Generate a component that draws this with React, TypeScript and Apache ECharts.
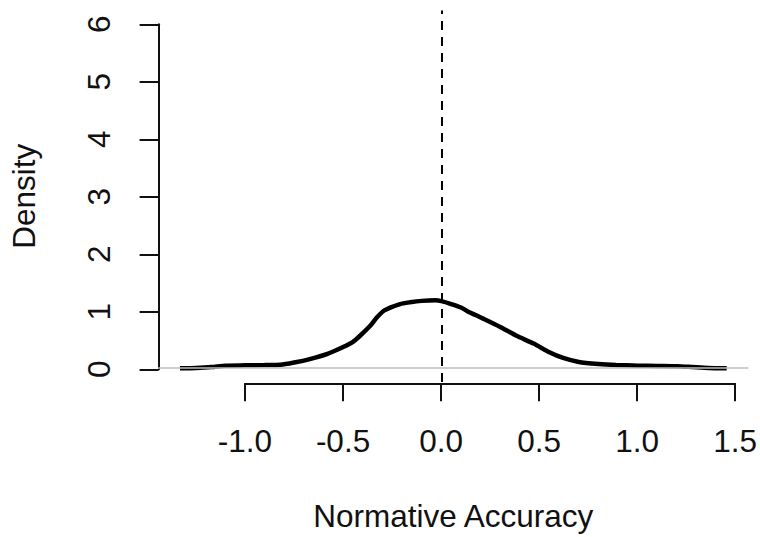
import React, { useEffect, useRef } from "react";
import * as echarts from "echarts";

// Density curve
const densityX = [
  -1.331, -1.25, -1.17, -1.1, -1.0, -0.9, -0.82, -0.75, -0.67, -0.58, -0.5, -0.45, -0.41,
  -0.36, -0.33, -0.29, -0.21, -0.16, -0.1, -0.03, 0.0, 0.05, 0.1, 0.13, 0.21, 0.3, 0.38,
  0.47, 0.55, 0.62, 0.7, 0.8, 0.89, 1.0, 1.1, 1.2, 1.28, 1.36, 1.453,
];
const densityY = [
  0.0, 0.005, 0.02, 0.045, 0.05, 0.055, 0.06, 0.1, 0.16, 0.25, 0.37, 0.46, 0.58,
  0.75, 0.88, 1.01, 1.12, 1.15, 1.175, 1.185, 1.17, 1.12, 1.06, 1.0, 0.87, 0.72, 0.57,
  0.43, 0.28, 0.18, 0.11, 0.075, 0.057, 0.045, 0.04, 0.035, 0.02, 0.005, 0.0,
];

const xTickMin = -1.0;
const xTickMax = 1.5;
const xTickStep = 0.5;
const yTickMin = 0;
const yTickMax = 6;
const yTickStep = 1;
const xRange = [-1.4423, 1.5633];
const yRange = [-0.24, 6.24];
const vLineAt = 0;
const hLineAt = 0;
const xTitle = "Normative Accuracy";
const yTitle = "Density";

export default function App() {
  const ref = useRef<HTMLDivElement>(null);
  useEffect(() => {
    const chart = echarts.init(ref.current!, null, { renderer: "svg" });
    const font = "'Liberation Sans', Arial, sans-serif";
    const fs = 31.5;
    const ink = "#111";
    const points = densityX.map((x, i) => [x, densityY[i]]);
    chart.setOption({
      animation: false,
      backgroundColor: "#fff",
      grid: [
        { left: 158.1, right: 11.6, top: 10.5, bottom: 153.9 },
        { left: 245, right: 24, top: 300, bottom: 153.7 },
        { left: 158.6, width: 60, top: 24.3, bottom: 167.7 },
      ],
      xAxis: [
        {
          gridIndex: 0, type: "value", min: xRange[0], max: xRange[1],
          axisLine: { show: false }, axisTick: { show: false },
          axisLabel: { show: false }, splitLine: { show: false },
          name: xTitle, nameLocation: "middle", nameGap: 118,
          nameTextStyle: { fontFamily: font, fontSize: fs, color: ink },
        },
        {
          gridIndex: 1, type: "value", min: xTickMin, max: xTickMax, interval: xTickStep,
          position: "bottom",
          axisLine: { show: true, lineStyle: { color: ink, width: 2 } },
          axisTick: { show: true, inside: false, length: 18, lineStyle: { color: ink, width: 2 } },
          axisLabel: {
            show: true, margin: 42, fontFamily: font, fontSize: fs, color: ink,
            formatter: (v: number) => v.toFixed(1),
          },
          splitLine: { show: false },
        },
        { gridIndex: 2, type: "value", show: false },
      ],
      yAxis: [
        {
          gridIndex: 0, type: "value", min: yRange[0], max: yRange[1],
          axisLine: { show: false }, axisTick: { show: false },
          axisLabel: { show: false }, splitLine: { show: false },
          name: yTitle, nameLocation: "middle", nameGap: 118, nameRotate: 90,
          nameTextStyle: { fontFamily: font, fontSize: fs, color: ink },
        },
        { gridIndex: 1, type: "value", show: false },
        {
          gridIndex: 2, type: "value", min: yTickMin, max: yTickMax, interval: yTickStep,
          position: "left",
          axisLine: { show: true, lineStyle: { color: ink, width: 2 } },
          axisTick: { show: true, inside: false, length: 19, lineStyle: { color: ink, width: 2 } },
          axisLabel: {
            show: true, rotate: 90, margin: 44, fontFamily: font, fontSize: fs, color: ink,
          },
          splitLine: { show: false },
        },
      ],
      series: [
        {
          type: "line", xAxisIndex: 0, yAxisIndex: 0, data: points,
          showSymbol: false, smooth: 0.2, z: 2,
          lineStyle: { color: "#000", width: 4.5 },
        },
        {
          type: "line", xAxisIndex: 0, yAxisIndex: 0, data: [], z: 3,
          markLine: {
            silent: true, symbol: "none", label: { show: false },
            lineStyle: { color: "#bebebe", width: 1.5, type: "solid" },
            data: [{ yAxis: hLineAt }],
          },
        },
        {
          type: "line", xAxisIndex: 0, yAxisIndex: 0, data: [], z: 4,
          markLine: {
            silent: true, symbol: "none", label: { show: false },
            lineStyle: { color: "#000", width: 2, type: [9, 7] },
            data: [{ xAxis: vLineAt }],
          },
        },
      ],
    });
    return () => chart.dispose();
  }, []);
  return (
    <div
      ref={ref}
      style={{ position: "fixed", left: 0, top: 0, width: 760, height: 537 }}
    />
  );
}
